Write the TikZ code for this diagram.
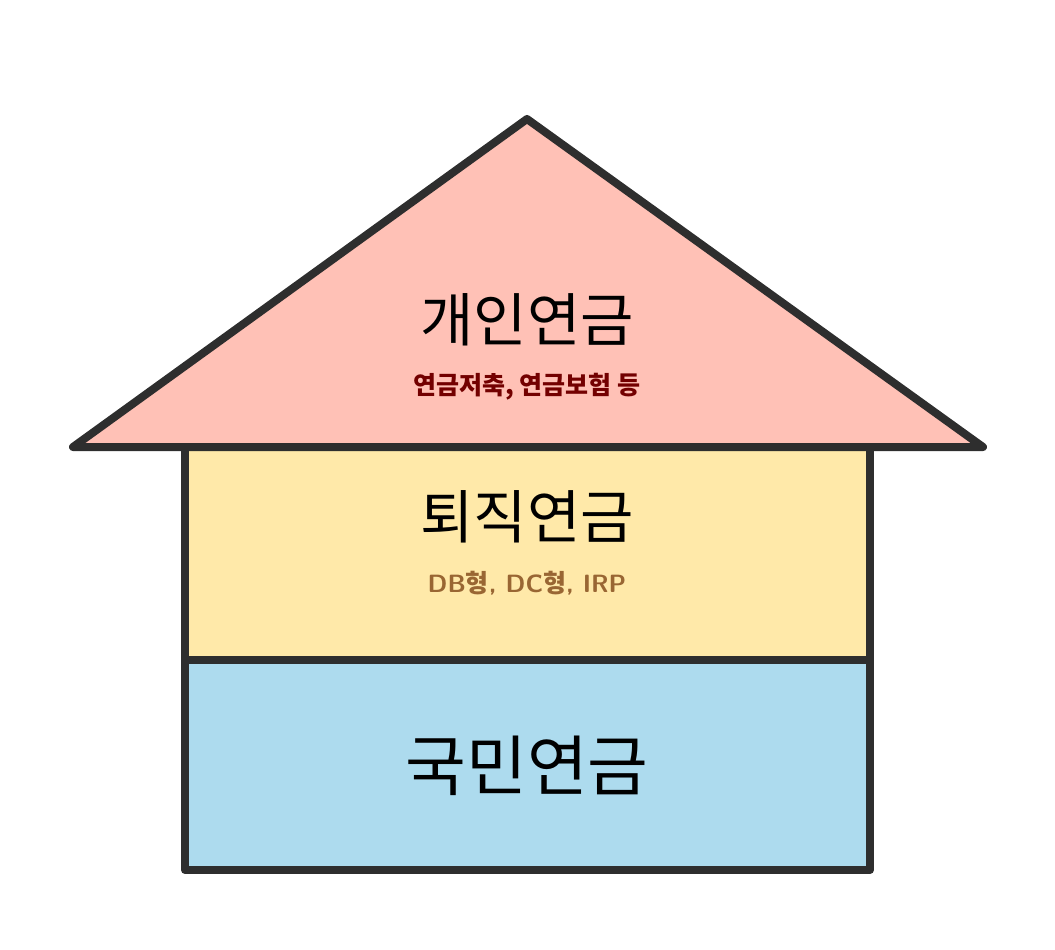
\documentclass[tikz,border=0pt]{standalone}
\usepackage{fontspec}
\newfontfamily\kr{Noto Sans CJK KR}
\newfontfamily\krb{Noto Sans CJK KR}[FakeBold=0]
\begin{document}
\begin{tikzpicture}[x=1pt,y=-1pt,
  wall/.style={draw=black!82,line width=8pt,line join=round},
  title/.style={font=\kr\fontsize{58}{60}\selectfont,text=black},
  sub/.style={font=\kr\bfseries\fontsize{25}{27}\selectfont}]
\useasboundingbox (0,0) rectangle (1055,950);
\definecolor{roof}{HTML}{FFC1B6}
\definecolor{mid}{HTML}{FFE9A9}
\definecolor{base}{HTML}{ADDBEE}
\coordinate (rl) at (73,447); \coordinate (rt) at (527,119); \coordinate (rr) at (983,447);
\filldraw[wall,fill=base] (185,660) rectangle (870,870);
\filldraw[wall,fill=mid] (185,447) rectangle (870,660);
\filldraw[wall,fill=roof] (rl) -- (rt) -- (rr) -- cycle;
\node[title] (t1) at (527,320) {개인연금};
\node[sub,text=red!45!black] (s1) at (527,387) {연금저축, 연금보험 등};
\node[title] (t2) at (527,517) {퇴직연금};
\node[sub,text=brown!80!black,font=\sffamily\bfseries\fontsize{25}{27}\selectfont] (s2) at (527,583) {DB{\kr\bfseries 형}, DC{\kr\bfseries 형}, IRP};
\node[title,font=\kr\fontsize{66}{68}\selectfont] (t3) at (527,766) {국민연금};
\end{tikzpicture}
\end{document}
